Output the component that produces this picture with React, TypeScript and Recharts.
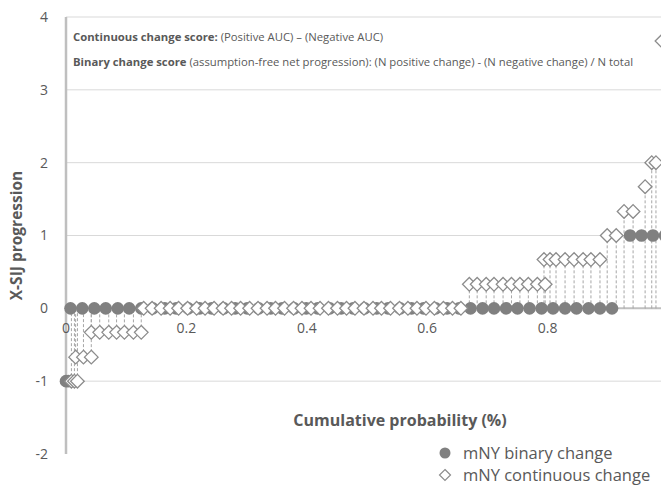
import {
  ScatterChart,
  Scatter,
  XAxis,
  YAxis,
  CartesianGrid,
  ReferenceLine,
  ReferenceDot,
  ErrorBar,
} from "recharts";

// mNY binary change: cumulative probability (x) and value (y)
const BINARY_X = [
  0.0, 0.004, 0.0075, 0.027, 0.047, 0.066, 0.086, 0.105, 0.125, 0.144, 0.164,
  0.183, 0.203, 0.222, 0.242, 0.262, 0.281, 0.301, 0.32, 0.34, 0.359, 0.379,
  0.399, 0.418, 0.438, 0.457, 0.477, 0.496, 0.516, 0.535, 0.555, 0.574, 0.594,
  0.614, 0.633, 0.653, 0.672, 0.692, 0.711, 0.731, 0.75, 0.77, 0.79, 0.809,
  0.829, 0.848, 0.868, 0.887, 0.907, 0.937, 0.956, 0.975, 0.995,
];
const BINARY_Y = [
  -1, -1, 0, 0, 0, 0, 0, 0, 0, 0, 0, 0, 0, 0, 0, 0, 0, 0, 0, 0, 0, 0, 0, 0, 0,
  0, 0, 0, 0, 0, 0, 0, 0, 0, 0, 0, 0, 0, 0, 0, 0, 0, 0, 0, 0, 0, 0, 0, 0, 1, 1,
  1, 1,
];

// mNY continuous change
const CONTINUOUS_X = [
  0.009, 0.014, 0.019, 0.016, 0.029, 0.042, 0.042, 0.056, 0.071, 0.084, 0.097,
  0.112, 0.125, 0.129, 0.143, 0.158, 0.173, 0.187, 0.202, 0.217, 0.231, 0.246,
  0.261, 0.275, 0.29, 0.305, 0.319, 0.334, 0.348, 0.363, 0.378, 0.392, 0.407,
  0.422, 0.436, 0.451, 0.466, 0.48, 0.495, 0.51, 0.524, 0.539, 0.554, 0.568,
  0.583, 0.598, 0.612, 0.627, 0.642, 0.656, 0.67, 0.683, 0.698, 0.711, 0.726,
  0.74, 0.754, 0.768, 0.783, 0.796, 0.794, 0.804, 0.814, 0.829, 0.844, 0.859,
  0.872, 0.887, 0.899, 0.914, 0.927, 0.942, 0.962, 0.973, 0.98, 0.99,
];
const CONTINUOUS_Y = [
  -1, -1, -1, -0.67, -0.67, -0.67, -0.33, -0.33, -0.33, -0.33, -0.33, -0.33,
  -0.33, 0, 0, 0, 0, 0, 0, 0, 0, 0, 0, 0, 0, 0, 0, 0, 0, 0, 0, 0, 0, 0, 0, 0, 0,
  0, 0, 0, 0, 0, 0, 0, 0, 0, 0, 0, 0, 0, 0.33, 0.33, 0.33, 0.33, 0.33, 0.33,
  0.33, 0.33, 0.33, 0.33, 0.67, 0.67, 0.67, 0.67, 0.67, 0.67, 0.67, 0.67, 1, 1,
  1.33, 1.33, 1.67, 2, 2, 3.67,
];

const Y_TICKS = [-2, -1, 0, 1, 2, 3, 4];
const X_TICKS = [0, 0.2, 0.4, 0.6, 0.8];
const X_TICK_LABELS = ["0", "0.2", "0.4", "0.6", "0.8"];
const GRID_VALUES = [-1, 1, 2, 3, 4];

const binaryData = BINARY_X.map((x, i) => ({ x, y: BINARY_Y[i] }));
// drop line from each point to the x axis
const continuousData = CONTINUOUS_X.map((x, i) => {
  const y = CONTINUOUS_Y[i];
  return { x, y, drop: y > 0 ? [y, 0] : y < 0 ? [0, -y] : null };
});

const TEXT = "#595959";
const MARK = "#808080";

const Dot = (p: any) => <circle cx={p.cx} cy={p.cy} r={6.3} fill={MARK} />;

const Diamond = (p: any) => {
  const s = 6.8;
  return (
    <path
      d={`M${p.cx},${p.cy - s}L${p.cx + s},${p.cy}L${p.cx},${p.cy + s}L${p.cx - s},${p.cy}Z`}
      fill="#fff"
      stroke="#8c8c8c"
      strokeWidth={1.3}
    />
  );
};

export default function App() {
  return (
    <div
      style={{
        position: "absolute",
        left: 0,
        top: 0,
        width: 661,
        height: 485,
        overflow: "hidden",
        background: "#fff",
        fontFamily: "'Open Sans', sans-serif",
        color: TEXT,
      }}
    >
      <ScatterChart width={678} height={485} margin={{ top: 17, right: 10, bottom: 31, left: 1 }}>
        <CartesianGrid vertical={false} stroke="#d9d9d9" horizontalValues={GRID_VALUES} />
        <XAxis type="number" dataKey="x" domain={[0, 1]} hide />
        <YAxis
          type="number"
          dataKey="y"
          domain={[-2, 4]}
          ticks={Y_TICKS}
          width={65}
          axisLine={{ stroke: "#bfbfbf", strokeWidth: 2.5 }}
          tickLine={false}
          tick={{ fill: TEXT, fontSize: 14, dx: -10 }}
          label={{
            value: "X-SIJ progression",
            angle: -90,
            position: "insideLeft",
            offset: 15,
            fill: TEXT,
            fontSize: 15.5,
            fontWeight: 700,
            style: { textAnchor: "middle" },
          }}
        />
        <ReferenceLine y={0} stroke="#bfbfbf" strokeWidth={2} />
        {X_TICKS.map((t, i) => (
          <ReferenceDot
            key={t}
            x={t}
            y={0}
            r={0}
            fill="none"
            stroke="none"
            label={{ value: X_TICK_LABELS[i], position: "bottom", offset: 15, fill: TEXT, fontSize: 14 }}
          />
        ))}
        <Scatter name="mNY binary change" data={binaryData} shape={Dot} isAnimationActive={false} />
        <Scatter name="mNY continuous change" data={continuousData} shape={Diamond} isAnimationActive={false}>
          <ErrorBar dataKey="drop" direction="y" width={0} stroke="#a6a6a6" strokeWidth={1} strokeDasharray="3 2" />
        </Scatter>
      </ScatterChart>

      <div style={{ position: "absolute", left: 73, top: 29, fontSize: 11.3, lineHeight: "16px", whiteSpace: "nowrap" }}>
        <b>Continuous change score:</b> (Positive AUC) – (Negative AUC)
      </div>
      <div style={{ position: "absolute", left: 73, top: 54, fontSize: 11.3, lineHeight: "16px", whiteSpace: "nowrap" }}>
        <b>Binary change score</b> (assumption-free net progression): (N positive change) - (N negative change) / N total
      </div>

      <div
        style={{
          position: "absolute",
          left: 0,
          width: 800,
          top: 409,
          textAlign: "center",
          fontSize: 16,
          fontWeight: 700,
          lineHeight: "22px",
        }}
      >
        Cumulative probability (%)
      </div>

      <div style={{ position: "absolute", left: 436, top: 442, fontSize: 16.5, lineHeight: "22px", whiteSpace: "nowrap" }}>
        <div style={{ display: "flex", alignItems: "center" }}>
          <svg width={20} height={22}>
            <circle cx={9} cy={11} r={5.5} fill={MARK} />
          </svg>
          <span style={{ marginLeft: 7 }}>mNY binary change</span>
        </div>
        <div style={{ display: "flex", alignItems: "center" }}>
          <svg width={20} height={22}>
            <path d="M9,5.5L14.5,11L9,16.5L3.5,11Z" fill="#fff" stroke="#8c8c8c" strokeWidth={1.2} />
          </svg>
          <span style={{ marginLeft: 7 }}>mNY continuous change</span>
        </div>
      </div>
    </div>
  );
}
